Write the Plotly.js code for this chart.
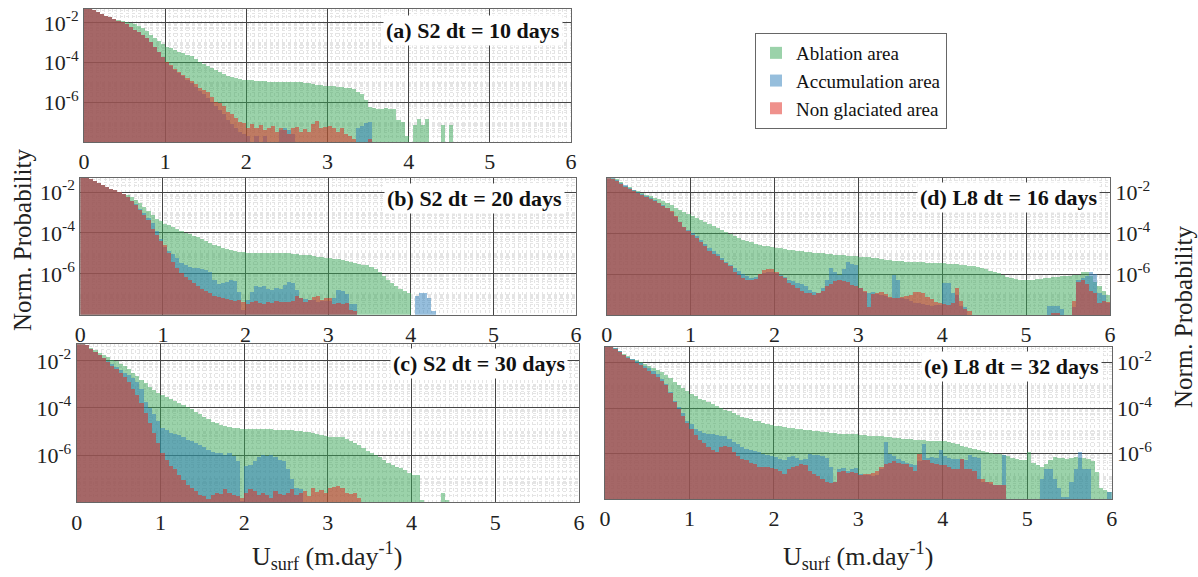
<!DOCTYPE html>
<html><head><meta charset="utf-8">
<script src="https://cdn.plot.ly/plotly-3.0.1.min.js"></script>
<style>html,body{margin:0;padding:0;background:#fff}#chart{width:1198px;height:577px}</style>
</head><body><div id="chart"></div>
<script>
// Histogram bins of surface velocity (m/day): 120 bins of 0.05 from 0 to 6
const binWidth = 0.05;
const binCount = 120;
const binCenters = Array.from({length: binCount}, (_, i) => +(binWidth * i + binWidth / 2).toFixed(3));
const xTicks = [0, 1, 2, 3, 4, 5, 6];
const yTickVals = [1e-2, 1e-4, 1e-6];
const yTickText = ['10<sup>-2</sup>', '10<sup>-4</sup>', '10<sup>-6</sup>'];
const seriesNames = ['Ablation area', 'Accumulation area', 'Non glaciated area'];
const panelLabels = ['(a) S2 dt = 10 days', '(b) S2 dt = 20 days', '(c) S2 dt = 30 days', '(d) L8 dt = 16 days', '(e) L8 dt = 32 days'];

// Values are log10(normalized probability) per bin; null = empty bin
const a_ablation = [
-1.3,-1.3,-1.35,-1.45,-1.55,-1.65,-1.72,-1.8,-1.86,-1.92,-1.97,-2.02,-2.08,-2.15,-2.25,-2.42,-2.6,-2.75,-2.9,-3.05,
-3.19,-3.28,-3.36,-3.45,-3.53,-3.6,-3.69,-3.8,-3.95,-4.05,-4.15,-4.26,-4.37,-4.48,-4.58,-4.67,-4.75,-4.8,-4.83,-4.86,
-4.88,-4.9,-4.92,-4.93,-4.95,-4.96,-4.97,-4.97,-4.98,-4.98,-4.98,-4.98,-4.99,-5.0,-5.02,-5.05,-5.08,-5.11,-5.14,-5.17,
-5.19,-5.2,-5.22,-5.25,-5.28,-5.3,-5.35,-5.47,-5.6,-5.9,-6.24,-6.3,-6.32,-6.32,-6.3,-6.35,-6.35,-6.9,-7.0,-7.7,
null,-7.15,-6.85,-7.15,-6.85,null,null,null,-7.15,null,-7.15];
const a_accumulation = [
-1.3,-1.3,-1.35,-1.45,-1.55,-1.65,-1.72,-1.8,-1.88,-1.97,-2.08,-2.2,-2.35,-2.48,-2.6,-2.78,-2.95,-3.2,-3.45,-3.7,
-4.0,-4.15,-4.35,-4.5,-4.7,-4.9,-5.05,-5.25,-5.45,-5.6,-5.8,-6.0,-6.2,-6.4,-6.6,-6.9,-7.1,-7.3,-7.5,-7.6,
-7.7,null,-7.7,null,-7.7,null,null,null,-7.4,-7.3,-7.4,-7.6,null,null,null,null,null,null,null,null,
null,null,null,null,null,null,null,-7.3,-7.2,-7.05,-7.0];
const a_nonglaciated = [
-1.3,-1.3,-1.35,-1.45,-1.55,-1.65,-1.72,-1.8,-1.88,-1.97,-2.08,-2.2,-2.35,-2.48,-2.6,-2.78,-2.95,-3.2,-3.45,-3.7,
-3.95,-4.1,-4.3,-4.45,-4.6,-4.8,-4.95,-5.1,-5.3,-5.4,-5.5,-5.75,-6.0,-6.05,-6.2,-6.5,-6.6,-6.8,-7.0,-7.05,
-7.3,-7.1,-7.3,-7.15,-7.4,-7.3,-7.2,-7.5,-7.3,-7.4,-7.6,-7.3,-7.25,-7.5,-7.35,-7.5,-7.1,-6.95,-7.3,-7.25,
-7.2,-7.3,-7.5,-7.3,-7.6,-7.7,-7.85,null,null,null,-7.85];

const b_ablation = [
-1.3,-1.3,-1.35,-1.45,-1.55,-1.65,-1.75,-1.84,-1.92,-2.0,-2.08,-2.16,-2.24,-2.4,-2.55,-2.75,-2.95,-3.12,-3.3,-3.42,
-3.54,-3.62,-3.7,-3.8,-3.9,-3.98,-4.06,-4.15,-4.22,-4.3,-4.38,-4.48,-4.58,-4.66,-4.74,-4.8,-4.86,-4.9,-4.93,-4.95,
-4.96,-4.98,-5.0,-5.0,-5.0,-5.0,-5.0,-5.0,-5.0,-5.0,-5.0,-5.02,-5.04,-5.06,-5.08,-5.1,-5.13,-5.16,-5.19,-5.22,
-5.25,-5.28,-5.3,-5.34,-5.38,-5.41,-5.45,-5.5,-5.55,-5.58,-5.65,-5.75,-5.9,-6.1,-6.3,-6.47,-6.6,-6.72,-6.85,-6.96];
const b_accumulation = [
-1.3,-1.3,-1.35,-1.45,-1.55,-1.65,-1.75,-1.84,-1.92,-2.0,-2.12,-2.25,-2.42,-2.6,-2.82,-3.02,-3.25,-3.5,-3.9,-4.3,
-4.7,-4.9,-5.05,-5.25,-5.45,-5.55,-5.65,-5.7,-5.72,-5.75,-5.8,-5.9,-6.3,-6.5,-6.45,-6.4,-6.3,-6.35,-6.9,-7.75,
-7.3,-6.9,-6.6,-6.65,-6.6,-6.75,-6.8,-6.7,-6.75,-6.55,-6.4,-6.45,-6.8,-7.2,-7.25,-7.3,-7.3,-7.4,-7.35,-7.35,
-7.35,-7.2,-6.8,-6.85,-7.0,-7.5,-7.5,null,null,null,null,null,null,null,null,null,null,null,null,null,
null,-7.1,-6.95,-6.95,-7.2,-7.8];
const b_nonglaciated = [
-1.3,-1.3,-1.35,-1.45,-1.55,-1.65,-1.75,-1.84,-1.92,-2.0,-2.12,-2.25,-2.45,-2.65,-2.9,-3.1,-3.38,-3.8,-4.1,-4.4,
-4.6,-5.0,-5.4,-5.7,-5.95,-6.15,-6.3,-6.47,-6.6,-6.72,-6.85,-6.95,-7.1,-7.15,-7.2,-7.25,-7.3,-7.35,-7.3,-7.4,
-7.5,-7.4,-7.35,-7.45,-7.5,-7.4,-7.45,-7.35,-7.4,-7.37,-7.4,-7.35,-7.1,-7.2,-7.4,-7.3,-7.15,-7.1,-7.3,-7.2,
-7.2,-7.5,-7.45,-7.5,-7.45,-7.75,-7.8];

const c_ablation = [
-1.3,-1.3,-1.35,-1.45,-1.55,-1.65,-1.75,-1.85,-1.95,-2.02,-2.12,-2.22,-2.35,-2.5,-2.65,-2.8,-2.95,-3.1,-3.22,-3.35,
-3.45,-3.55,-3.63,-3.72,-3.8,-3.88,-3.96,-4.05,-4.15,-4.27,-4.38,-4.48,-4.58,-4.65,-4.72,-4.77,-4.81,-4.84,-4.87,-4.89,
-4.89,-4.9,-4.9,-4.9,-4.9,-4.91,-4.91,-4.92,-4.92,-4.93,-4.93,-4.95,-4.97,-4.99,-5.0,-5.02,-5.05,-5.1,-5.14,-5.18,
-5.21,-5.21,-5.21,-5.22,-5.3,-5.42,-5.5,-5.58,-5.7,-5.82,-5.92,-6.0,-6.1,-6.2,-6.32,-6.42,-6.5,-6.55,-6.62,-6.75,
-6.83,-6.85,-7.9,null,null,null,null,-7.6,-7.9];
const c_accumulation = [
-1.3,-1.3,-1.35,-1.5,-1.62,-1.74,-1.86,-2.0,-2.12,-2.25,-2.38,-2.5,-2.62,-2.72,-2.9,-3.2,-3.75,-4.0,-4.25,-4.55,
-4.86,-4.95,-5.05,-5.1,-5.15,-5.25,-5.35,-5.4,-5.5,-5.56,-5.65,-5.8,-5.88,-5.9,-5.92,-6.0,-5.92,-6.05,-6.27,-7.95,
-6.48,-6.4,-6.25,-6.1,-6.0,-6.05,-6.0,-6.1,-6.2,-6.27,-6.6,-7.0,-7.4,-7.45];
const c_nonglaciated = [
-1.3,-1.3,-1.35,-1.5,-1.62,-1.76,-1.9,-2.05,-2.2,-2.35,-2.5,-2.7,-2.9,-3.2,-3.45,-3.8,-4.2,-4.65,-5.05,-5.5,
-5.92,-6.2,-6.45,-6.6,-6.85,-7.05,-7.25,-7.4,-7.5,-7.68,-7.75,-7.85,-7.7,-7.6,-7.65,-7.45,-7.6,-7.7,-7.75,-7.8,
-7.6,-7.45,-7.5,-7.7,-7.6,-7.7,-7.8,-7.5,-7.65,-7.7,-7.6,-7.45,-7.7,-7.6,-7.5,-7.75,-7.4,-7.55,-7.46,-7.6,
-7.4,-7.35,-7.3,-7.4,-7.6,-7.65,-7.6,-7.8];

const d_ablation = [
-1.3,-1.3,-1.35,-1.5,-1.67,-1.75,-1.85,-1.93,-2.02,-2.1,-2.18,-2.25,-2.32,-2.4,-2.5,-2.62,-2.75,-2.85,-2.94,-3.04,
-3.14,-3.24,-3.33,-3.43,-3.55,-3.65,-3.75,-3.85,-3.95,-4.05,-4.14,-4.22,-4.3,-4.38,-4.44,-4.5,-4.55,-4.6,-4.64,-4.67,
-4.7,-4.73,-4.76,-4.79,-4.82,-4.85,-4.88,-4.91,-4.93,-4.95,-4.97,-4.98,-5.0,-5.02,-5.04,-5.06,-5.08,-5.1,-5.12,-5.13,
-5.14,-5.16,-5.18,-5.2,-5.23,-5.25,-5.28,-5.3,-5.33,-5.35,-5.37,-5.38,-5.4,-5.4,-5.41,-5.42,-5.43,-5.44,-5.45,-5.46,
-5.46,-5.48,-5.5,-5.52,-5.53,-5.55,-5.58,-5.6,-5.63,-5.68,-5.75,-5.82,-5.88,-5.95,-6.05,-6.15,-6.2,-6.24,-6.26,-6.28,
-6.28,-6.26,-6.24,-6.22,-6.2,-6.18,-6.15,-6.12,-6.11,-6.1,-6.08,-6.06,-6.05,-5.87,-5.9,-6.1,-6.4,-6.6,-6.8,-7.0];
const d_accumulation = [
-1.3,-1.3,-1.38,-1.52,-1.65,-1.78,-1.88,-1.98,-2.08,-2.18,-2.28,-2.38,-2.5,-2.62,-2.75,-2.95,-3.2,-3.45,-3.7,-3.85,
-4.0,-4.15,-4.33,-4.5,-4.7,-4.85,-5.0,-5.2,-5.38,-5.55,-5.71,-5.85,-6.0,-6.1,-6.2,-6.15,-6.05,-5.95,-5.87,-5.87,
-5.95,-6.05,-6.15,-6.28,-6.35,-6.45,-6.5,-6.6,-6.76,-6.85,-6.9,-6.7,-6.3,-5.7,-5.9,-6.05,-5.75,-5.38,-5.5,-5.55,
-6.7,-6.85,-6.9,-6.85,-6.95,-7.0,-7.05,-7.15,-6.03,-6.3,-7.17,-7.2,-7.3,-7.4,-7.4,-7.45,-7.5,-7.55,-7.5,-7.5,
-6.44,-6.44,-6.9,-7.0,-7.55,-7.6,null,null,null,null,null,null,null,null,null,null,null,null,null,null,
null,null,null,null,null,-7.58,-7.58,-7.58,-7.7,null,null,-7.6,-6.3,-6.2,-6.1,-5.9,-6.0,-6.9,-7.0,-7.4];
const d_nonglaciated = [
-1.3,-1.32,-1.45,-1.6,-1.72,-1.8,-1.9,-2.0,-2.1,-2.2,-2.33,-2.42,-2.52,-2.65,-2.75,-2.9,-3.15,-3.45,-3.7,-3.9,
-4.08,-4.25,-4.4,-4.6,-4.85,-5.0,-5.1,-5.3,-5.45,-5.6,-5.9,-6.05,-6.2,-6.28,-6.28,-6.25,-6.0,-5.8,-5.74,-5.74,
-5.9,-6.1,-6.2,-6.44,-6.55,-6.7,-6.8,-6.9,-6.93,-7.0,-6.9,-6.8,-6.6,-6.5,-6.35,-6.28,-6.35,-6.4,-6.55,-6.6,
-6.7,-6.8,-7.6,-6.95,-6.9,-6.85,-6.95,-7.1,-7.17,-7.15,-7.1,-7.05,-7.0,-6.85,-6.85,-6.9,-7.1,-7.2,-7.35,-7.4,
-7.45,-7.5,-7.4,-6.7,-7.3,-7.7,-7.8,null,null,null,null,null,null,null,null,null,null,null,null,null,
null,null,null,null,null,null,-7.9,-7.9,null,null,null,-7.3,-6.4,-6.28,-6.5,-6.8,-6.9,-7.4,-7.3,-7.35];

const e_ablation = [
-1.3,-1.3,-1.35,-1.48,-1.62,-1.72,-1.82,-1.9,-1.98,-2.06,-2.16,-2.24,-2.33,-2.42,-2.55,-2.66,-2.85,-2.98,-3.12,-3.25,
-3.38,-3.48,-3.58,-3.66,-3.75,-3.82,-3.9,-3.98,-4.07,-4.14,-4.22,-4.3,-4.38,-4.44,-4.5,-4.55,-4.59,-4.64,-4.69,-4.73,
-4.77,-4.8,-4.83,-4.86,-4.88,-4.9,-4.93,-4.95,-4.98,-5.0,-5.02,-5.04,-5.06,-5.08,-5.1,-5.12,-5.13,-5.14,-5.15,-5.16,
-5.17,-5.19,-5.21,-5.22,-5.24,-5.25,-5.26,-5.28,-5.3,-5.32,-5.34,-5.36,-5.38,-5.4,-5.41,-5.42,-5.44,-5.45,-5.46,-5.46,
-5.46,-5.5,-5.55,-5.6,-5.65,-5.7,-5.75,-5.8,-5.85,-5.9,-5.93,-5.96,-6.0,-6.04,-6.08,-6.12,-6.2,-6.25,-6.29,-6.3,
-5.93,-6.4,-6.5,-6.59,-6.45,-6.3,-6.15,-6.18,-6.2,-6.22,-6.18,-6.15,-6.18,-6.2,-6.25,-6.35,-6.8,-7.53,-7.6,-7.7];
const e_accumulation = [
-1.3,-1.3,-1.37,-1.5,-1.65,-1.76,-1.86,-1.95,-2.03,-2.15,-2.25,-2.38,-2.5,-2.7,-2.95,-3.3,-3.7,-3.95,-4.2,-4.55,
-4.7,-4.9,-5.0,-5.08,-5.13,-5.16,-5.2,-5.22,-5.25,-5.35,-5.5,-5.6,-5.7,-5.78,-5.85,-5.9,-5.93,-6.0,-6.05,-6.1,
-6.15,-6.25,-6.3,-6.15,-6.1,-6.2,-6.3,-6.25,-6.0,-6.05,-6.05,-6.1,-6.2,-6.6,-7.24,-6.7,-6.65,-6.75,-6.7,-6.65,
-6.9,-6.95,-6.95,-7.0,-6.95,-6.7,-5.49,-6.0,-6.1,-6.25,-6.35,-6.4,-6.45,-6.5,-6.35,-5.56,-6.2,-6.15,-6.2,-5.86,
-6.1,-6.2,-6.25,-6.25,-6.22,-6.3,-6.08,-6.15,-6.2,-7.24,-7.24,-7.35,-7.4,-7.4,-6.08,null,null,null,null,null,
null,null,null,-7.1,-6.66,-6.66,-7.1,-7.5,-7.9,-7.9,-7.24,-6.7,-5.93,-6.66,-6.7,null,null,null,null,-7.68];
const e_nonglaciated = [
-1.3,-1.3,-1.38,-1.52,-1.67,-1.78,-1.9,-2.0,-2.12,-2.22,-2.35,-2.48,-2.62,-2.8,-3.0,-3.35,-3.75,-4.05,-4.35,-4.65,
-4.91,-5.2,-5.4,-5.55,-5.71,-5.85,-5.93,-5.71,-5.65,-5.7,-5.95,-6.1,-6.22,-6.3,-6.4,-6.45,-6.59,-6.6,-6.6,-6.65,
-6.66,-6.75,-6.9,-6.66,-6.6,-6.55,-6.45,-6.5,-6.75,-6.9,-6.98,-7.1,-7.24,-7.3,-7.24,-6.8,-6.78,-6.85,-6.8,-6.85,
-6.95,-6.9,-6.9,-6.85,-6.75,-6.6,-6.45,-6.4,-6.35,-6.4,-6.44,-6.44,-6.6,-6.75,-6.0,-6.3,-6.3,-6.4,-6.45,-6.5,
-6.5,-6.6,-6.7,-6.7,-6.22,-6.68,-6.7,-6.75,-7.1,-7.1,-7.24,-7.24,-7.39,-7.39,-7.39];

const panelData = [
  [a_ablation, a_accumulation, a_nonglaciated],
  [b_ablation, b_accumulation, b_nonglaciated],
  [c_ablation, c_accumulation, c_nonglaciated],
  [d_ablation, d_accumulation, d_nonglaciated],
  [e_ablation, e_accumulation, e_nonglaciated]
];

const colors = ['rgba(55,165,85,0.5)', 'rgba(45,125,185,0.5)', 'rgba(225,45,35,0.52)'];
const FONT = '"Liberation Serif", serif';

// panel placement (pixels of the 1198x577 page)
const W = 1198, H = 577;
const boxes = [
  {x0: 84, x1: 571, y0: 9, y1: 142, side: 'left', lx: 0.984, ly: 0.84},
  {x0: 80.3, x1: 576, y0: 177.7, y1: 314.7, side: 'left', lx: 0.978, ly: 0.85},
  {x0: 76.7, x1: 579, y0: 344.3, y1: 502.3, side: 'left', lx: 0.979, ly: 0.88},
  {x0: 606.7, x1: 1110, y0: 178.3, y1: 315, side: 'right', lx: 0.98, ly: 0.858},
  {x0: 605, x1: 1111.7, y0: 346.7, y1: 499, side: 'right', lx: 0.98, ly: 0.869}
];

const minorY = [];
for (let d = -8; d <= -2; d++) for (let k = 1; k <= 9; k++) {
  const v = k * Math.pow(10, d);
  if (k === 1 && (d === -2 || d === -4 || d === -6 || d === -8)) continue;
  minorY.push(v);
}

const traces = [];
const layout = {
  width: W, height: H, margin: {l: 0, r: 0, t: 0, b: 0},
  paper_bgcolor: '#fff', plot_bgcolor: '#fff',
  barmode: 'overlay', bargap: 0,
  font: {family: FONT, color: '#222'},
  showlegend: true,
  legend: {x: 755 / W, y: 1 - 33 / H, xanchor: 'left', yanchor: 'top', bgcolor: '#fff',
           bordercolor: '#666', borderwidth: 1, font: {family: FONT, size: 19, color: '#111'},
           tracegroupgap: 0, itemwidth: 30},
  annotations: [], shapes: []
};

boxes.forEach((b, p) => {
  const s = p === 0 ? '' : String(p + 1);
  panelData[p].forEach((vals, k) => {
    traces.push({
      type: 'bar', x: binCenters, y: vals.map(v => v === null ? null : Math.pow(10, v)),
      width: binWidth, name: seriesNames[k], showlegend: p === 0,
      marker: {color: colors[k], line: {width: 0}},
      xaxis: 'x' + s, yaxis: 'y' + s, hoverinfo: 'skip'
    });
  });
  layout['xaxis' + s] = {
    domain: [b.x0 / W, b.x1 / W], anchor: 'y' + s, range: [0, 6],
    tickvals: xTicks, ticks: '', showgrid: true, gridcolor: '#444', gridwidth: 1,
    minor: {dtick: 0.05, showgrid: true, gridcolor: '#e4e4e4', griddash: 'dot', gridwidth: 1},
    showline: true, mirror: true, linecolor: '#666', linewidth: 1, zeroline: false,
    tickfont: {family: FONT, size: 22, color: '#222'}, fixedrange: true
  };
  layout['yaxis' + s] = {
    domain: [1 - b.y1 / H, 1 - b.y0 / H], anchor: 'x' + s, type: 'log', range: [-8, -1.3],
    tickvals: yTickVals, ticktext: yTickText, side: b.side, ticks: '',
    showgrid: true, gridcolor: '#444', gridwidth: 1,
    minor: {tickvals: minorY, showgrid: true, gridcolor: '#e4e4e4', griddash: 'dot', gridwidth: 1},
    showline: true, mirror: true, linecolor: '#666', linewidth: 1, zeroline: false,
    tickfont: {family: FONT, size: 22, color: '#222'}, fixedrange: true
  };
  layout.annotations.push({
    xref: 'x' + s + ' domain', yref: 'y' + s + ' domain', x: b.lx, y: b.ly,
    xanchor: 'right', yanchor: 'middle', showarrow: false,
    text: '<b>' + panelLabels[p] + '</b>', bgcolor: '#fff', borderpad: 2,
    font: {family: FONT, size: 22, color: '#111'}
  });
});

layout.annotations.push(
  {xref: 'paper', yref: 'paper', x: 22 / W, y: 1 - 240 / H, xanchor: 'center', yanchor: 'middle',
   textangle: -90, showarrow: false,
   text: 'Norm. Probability', font: {family: FONT, size: 25, color: '#222'}},
  {xref: 'paper', yref: 'paper', x: 1183 / W, y: 1 - 317 / H, xanchor: 'center', yanchor: 'middle',
   textangle: -90, showarrow: false,
   text: 'Norm. Probability', font: {family: FONT, size: 25, color: '#222'}},
  {xref: 'paper', yref: 'paper', x: 327 / W, y: 0.002, xanchor: 'center', yanchor: 'bottom', showarrow: false,
   text: 'U<sub>surf</sub> (m.day<sup>-1</sup>)', font: {family: FONT, size: 26, color: '#222'}},
  {xref: 'paper', yref: 'paper', x: 858 / W, y: 0.002, xanchor: 'center', yanchor: 'bottom', showarrow: false,
   text: 'U<sub>surf</sub> (m.day<sup>-1</sup>)', font: {family: FONT, size: 26, color: '#222'}}
);

Plotly.newPlot('chart', traces, layout, {staticPlot: true, displayModeBar: false});
</script></body></html>
